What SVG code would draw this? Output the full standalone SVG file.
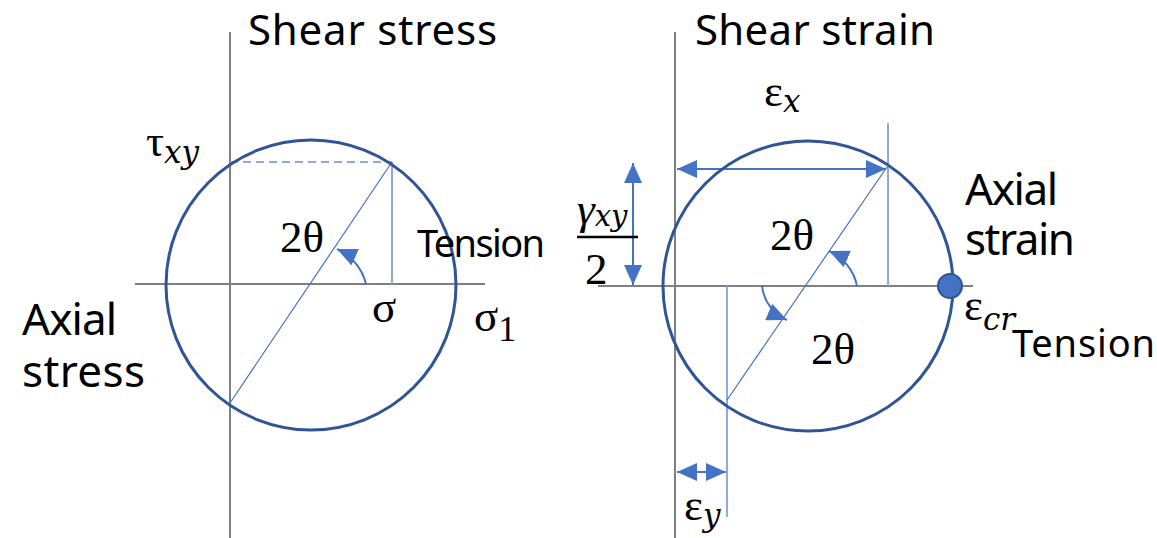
<svg xmlns="http://www.w3.org/2000/svg" width="1157" height="538" viewBox="0 0 1157 538">
<style>
.lbl{font-family:"Noto Sans","Open Sans",sans-serif;font-size:42px;fill:#000}
.big{font-size:44px}
.ten{font-size:38px}
.m{font-family:"Liberation Serif","DejaVu Serif",serif;font-size:45px;fill:#000}
.mi{font-family:"DejaVu Serif",serif;font-style:italic}
.axis{stroke:#7F7F7F;stroke-width:2;fill:none}
.circ{stroke:#2F5597;stroke-width:3;fill:none}
.thin{stroke:#8FAADC;stroke-width:2;fill:none}
.dia{stroke:#4472C4;stroke-width:1.2;fill:none}
.arr{stroke:#4472C4;stroke-width:2;fill:none}
</style>
<defs>
<marker id="ah" markerUnits="userSpaceOnUse" markerWidth="22" markerHeight="18" refX="20" refY="9" orient="auto-start-reverse">
<path d="M0,0 L20,9 L0,18 Z" fill="#4472C4"/>
</marker>
</defs>
<rect width="1157" height="538" fill="#fff"/>
<g id="connectors">
<line class="axis" x1="230" y1="32" x2="230" y2="538"/>
<line class="axis" x1="135" y1="284" x2="485" y2="284"/>
<line class="axis" x1="675" y1="32" x2="675" y2="538"/>
<line class="axis" x1="598" y1="286" x2="973" y2="286"/>
<line class="thin" x1="230" y1="162" x2="392" y2="162" stroke-dasharray="8,5"/>
<line class="thin" x1="392" y1="162" x2="392" y2="284"/>
<line class="dia" x1="392" y1="162" x2="230" y2="403"/>
<path class="arr" d="M366,284 A52,52 0 0 0 337,249" marker-end="url(#ah)"/>
<line class="thin" x1="888" y1="123" x2="888" y2="286"/>
<line class="thin" x1="727" y1="286" x2="727" y2="517"/>
<line class="dia" x1="887" y1="167" x2="727" y2="400"/>
<line class="arr" x1="677" y1="169" x2="886" y2="169" marker-start="url(#ah)" marker-end="url(#ah)"/>
<line class="arr" x1="633" y1="163" x2="633" y2="285" marker-start="url(#ah)" marker-end="url(#ah)"/>
<path class="arr" d="M857,286 A48,48 0 0 0 829,251" marker-end="url(#ah)"/>
<path class="arr" d="M762,286 A42,42 0 0 0 787,320" marker-end="url(#ah)"/>
<line class="arr" x1="677" y1="472" x2="726" y2="472" marker-start="url(#ah)" marker-end="url(#ah)"/>
</g>
<g id="mohr-stress">
<circle class="circ" cx="311" cy="285" r="145"/>
</g>
<g id="mohr-strain">
<circle class="circ" cx="808" cy="286" r="145"/>
<circle id="eps-cr-point" cx="950" cy="286" r="12" fill="#4472C4" stroke="#2F5597" stroke-width="2"/>
</g>
<g id="labels">
<text class="lbl" x="248" y="45" textLength="249">Shear stress</text>
<text class="lbl" x="695" y="45" textLength="240">Shear strain</text>
<text class="lbl big" x="22" y="335" textLength="95">Axial</text>
<text class="lbl big" x="22" y="387" textLength="123">stress</text>
<text class="lbl big" x="965" y="205" textLength="93">Axial</text>
<text class="lbl big" x="965" y="255" textLength="110">strain</text>
<text class="lbl ten" x="417" y="257" textLength="128">Tension</text>
<text class="lbl ten" x="1012" y="357" textLength="143">Tension</text>
<text class="m" x="146" y="156">τ<tspan class="mi" font-size="31" dy="7">xy</tspan></text>
<text class="m" x="280" y="252">2θ</text>
<text class="m" x="372" y="322">σ</text>
<text class="m" x="474" y="331">σ<tspan font-size="36" dy="10">1</tspan></text>
<text class="m" x="764" y="106">ε<tspan class="mi" font-size="31" dy="6">x</tspan></text>
<text class="m" x="577" y="224"><tspan font-style="italic">γ</tspan><tspan class="mi" font-size="29" dy="2">xy</tspan></text>
<line x1="577" y1="237" x2="638" y2="237" stroke="#000" stroke-width="2.5"/>
<text class="m" x="585" y="284">2</text>
<text class="m" x="770" y="250">2θ</text>
<text class="m" x="811" y="364">2θ</text>
<text class="m" x="964" y="320">ε<tspan class="mi" font-size="31" dy="10">cr</tspan></text>
<text class="m" x="684" y="520">ε<tspan class="mi" font-size="31" dy="6">y</tspan></text>
</g>
</svg>
